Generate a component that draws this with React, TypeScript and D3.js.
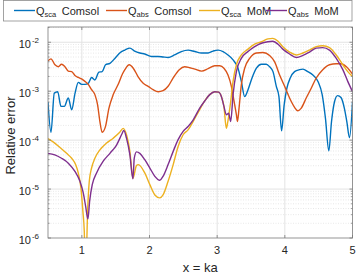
import React from 'react';
import * as d3 from 'd3';

// [ka, log10(relative error)]
const qScaComsol: [number, number][] = [
  [0.5, -3.22], [0.544, -3.84], [0.593, -3.04], [0.643, -3.01], [0.692, -3.31], [0.741, -3.31],
  [0.8, -3.14], [0.85, -3.38], [0.9, -3.04], [0.948, -2.82], [0.997, -2.86], [1.046, -2.86],
  [1.095, -2.84], [1.144, -2.72], [1.193, -2.77], [1.252, -2.61], [1.3, -2.6], [1.35, -2.46],
  [1.415, -2.43], [1.488, -2.33], [1.56, -2.22], [1.636, -2.16], [1.71, -2.12], [1.78, -2.18],
  [1.857, -2.22], [1.93, -2.24], [2.03, -2.29], [2.128, -2.29], [2.2, -2.3], [2.275, -2.31],
  [2.37, -2.26], [2.47, -2.19], [2.57, -2.16], [2.67, -2.19], [2.77, -2.22], [2.866, -2.22],
  [2.94, -2.18], [3.013, -2.16], [3.087, -2.19], [3.16, -2.26], [3.235, -2.36], [3.308, -2.53],
  [3.357, -2.8], [3.407, -3.11], [3.456, -2.97], [3.515, -2.73], [3.58, -2.53], [3.653, -2.45],
  [3.726, -2.45], [3.775, -2.5], [3.825, -2.6], [3.874, -2.9], [3.913, -3.11], [3.952, -3.81],
  [3.99, -3.28], [4.03, -2.94], [4.08, -2.73], [4.144, -2.6], [4.218, -2.56], [4.267, -2.55],
  [4.34, -2.6], [4.415, -2.67], [4.49, -2.8], [4.552, -3.07], [4.6, -3.55], [4.65, -4.22],
  [4.69, -3.62], [4.735, -3.21], [4.78, -3.09], [4.83, -3.13], [4.88, -3.35], [4.916, -3.62],
  [4.956, -3.95], [5.0, -3.22],
];

const qAbsComsol: [number, number][] = [
  [0.5, -2.38], [0.544, -2.34], [0.603, -2.46], [0.652, -2.5], [0.7, -2.45], [0.75, -2.5],
  [0.8, -2.59], [0.85, -2.6], [0.898, -2.68], [0.947, -2.72], [0.996, -2.75], [1.046, -2.8],
  [1.095, -2.86], [1.144, -2.97], [1.193, -3.07], [1.233, -3.28], [1.267, -3.62], [1.3, -3.84],
  [1.35, -3.72], [1.4, -3.35], [1.464, -3.07], [1.538, -2.86], [1.6, -2.65], [1.636, -2.56],
  [1.7, -2.46], [1.76, -2.53], [1.83, -2.7], [1.907, -2.84], [1.98, -2.9], [2.054, -2.97],
  [2.128, -3.01], [2.2, -2.99], [2.275, -2.9], [2.35, -2.73], [2.44, -2.56], [2.52, -2.5],
  [2.595, -2.52], [2.67, -2.55], [2.77, -2.59], [2.866, -2.54], [2.964, -2.48], [3.038, -2.48],
  [3.1, -2.53], [3.16, -2.67], [3.21, -2.9], [3.25, -3.21], [3.284, -3.48], [3.3, -3.62],
  [3.323, -3.35], [3.357, -2.87], [3.407, -2.53], [3.48, -2.33], [3.58, -2.22], [3.677, -2.21],
  [3.775, -2.27], [3.85, -2.4], [3.923, -2.67], [3.997, -2.9], [4.07, -3.14], [4.144, -3.33],
  [4.19, -3.4], [4.24, -3.35], [4.316, -3.14], [4.39, -2.94], [4.464, -2.73], [4.56, -2.56],
  [4.66, -2.46], [4.76, -2.44], [4.83, -2.44], [4.91, -2.5], [5.0, -2.65],
];

const qScaMom: [number, number][] = [
  [0.5, -3.97], [0.58, -4.04], [0.677, -4.15], [0.775, -4.27], [0.85, -4.37], [0.908, -4.5],
  [0.947, -4.67], [0.987, -4.98], [1.016, -5.46], [1.036, -5.86], [1.046, -6.3], [1.066, -6.3],
  [1.085, -5.46], [1.11, -4.84], [1.144, -4.57], [1.193, -4.37], [1.267, -4.2], [1.366, -4.06],
  [1.464, -3.96], [1.56, -3.84], [1.61, -3.76], [1.66, -3.89], [1.71, -4.23], [1.755, -4.78],
  [1.808, -4.52], [1.835, -4.5], [1.93, -4.67], [2.005, -4.91], [2.079, -5.12], [2.153, -5.18],
  [2.2, -5.12], [2.275, -4.84], [2.35, -4.5], [2.423, -4.13], [2.497, -3.89], [2.57, -3.79],
  [2.644, -3.62], [2.74, -3.38], [2.816, -3.2], [2.89, -3.07], [2.964, -3.01], [3.023, -3.02],
  [3.062, -3.11], [3.1, -3.31], [3.136, -3.76], [3.16, -3.6], [3.2, -3.21], [3.235, -2.8],
  [3.284, -2.46], [3.357, -2.26], [3.456, -2.14], [3.554, -2.04], [3.653, -1.99], [3.75, -1.93],
  [3.82, -1.92], [3.9, -1.98], [3.97, -2.09], [4.07, -2.2], [4.17, -2.26], [4.267, -2.22],
  [4.365, -2.16], [4.464, -2.09], [4.56, -2.07], [4.66, -2.11], [4.76, -2.26], [4.857, -2.46],
  [4.93, -2.6], [5.0, -2.7],
];

const qAbsMom: [number, number][] = [
  [0.5, -4.27], [0.6, -4.3], [0.7, -4.37], [0.8, -4.47], [0.898, -4.64], [0.972, -4.84],
  [1.021, -5.08], [1.056, -5.35], [1.09, -5.61], [1.115, -5.25], [1.154, -4.91], [1.218, -4.67],
  [1.316, -4.43], [1.415, -4.27], [1.513, -4.1], [1.597, -3.86], [1.62, -3.8], [1.66, -3.96],
  [1.71, -4.3], [1.755, -4.79], [1.775, -4.37], [1.808, -4.24], [1.857, -4.27], [1.93, -4.4],
  [2.005, -4.57], [2.079, -4.74], [2.153, -4.82], [2.2, -4.74], [2.275, -4.5], [2.35, -4.23],
  [2.423, -3.99], [2.497, -3.82], [2.57, -3.72], [2.644, -3.59], [2.74, -3.35], [2.816, -3.2],
  [2.89, -3.07], [2.964, -3.01], [3.023, -3.02], [3.062, -3.11], [3.1, -3.31], [3.136, -3.48],
  [3.17, -3.45], [3.2, -3.62], [3.235, -3.07], [3.284, -2.6], [3.357, -2.33], [3.456, -2.19],
  [3.554, -2.09], [3.653, -2.02], [3.75, -1.99], [3.82, -1.98], [3.9, -2.04], [3.97, -2.14],
  [4.07, -2.24], [4.17, -2.31], [4.267, -2.27], [4.365, -2.2], [4.464, -2.12], [4.56, -2.11],
  [4.66, -2.16], [4.76, -2.33], [4.857, -2.56], [4.93, -2.8], [5.0, -3.01],
];

const xTicks = [1, 2, 3, 4, 5];
const yExponents = [-6, -5, -4, -3, -2];

const series = [
  { name: 'sca', method: 'Comsol', data: qScaComsol, color: '#0072BD' },
  { name: 'abs', method: 'Comsol', data: qAbsComsol, color: '#D95319' },
  { name: 'sca', method: 'MoM', data: qScaMom, color: '#EDB120' },
  { name: 'abs', method: 'MoM', data: qAbsMom, color: '#7E2F8E' },
];

const W = 357;
const H = 275;
const margin = { top: 27, right: 4.5, bottom: 37, left: 48 };
const font = "'Liberation Sans', Arial, Helvetica, sans-serif";
const textColor = '#262626';

export default function App() {
  const x = d3.scaleLinear().domain([0.5, 5]).range([margin.left, W - margin.right]);
  const y = d3.scaleLog().domain([1e-6, 0.0205]).range([H - margin.bottom, margin.top]);

  const line = d3.line<[number, number]>()
    .x(d => x(d[0]))
    .y(d => y(Math.pow(10, d[1])))
    .curve(d3.curveMonotoneX);

  const x0 = margin.left;
  const x1 = W - margin.right;
  const y0 = H - margin.bottom;
  const y1 = margin.top;

  // minor values 2..9 x 10^k inside the domain
  const minor: number[] = [];
  yExponents.forEach(e => {
    for (let m = 2; m <= 9; m++) {
      const v = m * Math.pow(10, e);
      if (v < y.domain()[1]) minor.push(v);
    }
  });

  const legendX = [14, 106, 199, 266];

  return (
    <svg width={W} height={H} style={{ position: 'absolute', left: 0, top: 0, background: '#fff' }}
      fontFamily={font}>
      <defs>
        <clipPath id="plot-clip">
          <rect x={x0} y={y1} width={x1 - x0} height={y0 - y1} />
        </clipPath>
      </defs>
      <rect x={x0} y={y1} width={x1 - x0} height={y0 - y1} fill="#fff" />

      {/* minor grid */}
      {minor.map(v => (
        <line key={'mg' + v} x1={x0} x2={x1} y1={y(v)} y2={y(v)}
          stroke="#d9d9d9" strokeWidth={0.6} strokeDasharray="1,1.5" />
      ))}
      {/* major grid */}
      {yExponents.slice(1).map(e => (
        <line key={'yg' + e} x1={x0} x2={x1} y1={y(Math.pow(10, e))} y2={y(Math.pow(10, e))}
          stroke="#e3e3e3" strokeWidth={1} />
      ))}
      {xTicks.slice(0, -1).map(t => (
        <line key={'xg' + t} x1={x(t)} x2={x(t)} y1={y0} y2={y1} stroke="#e3e3e3" strokeWidth={1} />
      ))}

      {/* data */}
      <g clipPath="url(#plot-clip)">
        {series.map((s, i) => (
          <path key={i} d={line(s.data) || ''} fill="none" stroke={s.color} strokeWidth={1.4}
            strokeLinejoin="round" />
        ))}
      </g>

      {/* box and ticks */}
      <rect x={x0} y={y1} width={x1 - x0} height={y0 - y1} fill="none" stroke="#7a7a7a" strokeWidth={0.8} />
      {xTicks.map(t => (
        <g key={'xt' + t}>
          <line x1={x(t)} x2={x(t)} y1={y0} y2={y0 - 3} stroke="#7a7a7a" strokeWidth={0.8} />
          <line x1={x(t)} x2={x(t)} y1={y1} y2={y1 + 3} stroke="#7a7a7a" strokeWidth={0.8} />
          <text x={x(t)} y={y0 + 16} textAnchor="middle" fontSize={11} fill={textColor}>{t}</text>
        </g>
      ))}
      {minor.map(v => (
        <g key={'mt' + v}>
          <line x1={x0} x2={x0 + 1.6} y1={y(v)} y2={y(v)} stroke="#7a7a7a" strokeWidth={0.7} />
          <line x1={x1} x2={x1 - 1.6} y1={y(v)} y2={y(v)} stroke="#7a7a7a" strokeWidth={0.7} />
        </g>
      ))}
      {yExponents.map(e => {
        const yy = y(Math.pow(10, e));
        return (
          <g key={'yt' + e}>
            <line x1={x0} x2={x0 + 3} y1={yy} y2={yy} stroke="#7a7a7a" strokeWidth={0.8} />
            <line x1={x1} x2={x1 - 3} y1={yy} y2={yy} stroke="#7a7a7a" strokeWidth={0.8} />
            <text x={39} y={yy + 5.5} textAnchor="end" fontSize={11} fill={textColor}>
              10<tspan fontSize={8} dx={1} dy={-5}>{'-' + Math.abs(e)}</tspan>
            </text>
          </g>
        );
      })}

      <text x={(x0 + x1) / 2} y={272} textAnchor="middle" fontSize={13} fill={textColor}>x = ka</text>
      <text transform={`translate(15,${(y0 + y1) / 2 + 3}) rotate(-90)`} textAnchor="middle"
        fontSize={13} fill={textColor}>Relative error</text>

      {/* legend */}
      <rect x={3.5} y={0.5} width={348.5} height={20.5} fill="#fff" stroke="#8c8c8c" strokeWidth={0.8} />
      {series.map((s, i) => (
        <g key={'lg' + i}>
          <line x1={legendX[i]} x2={legendX[i] + 21} y1={10.5} y2={10.5} stroke={s.color} strokeWidth={1.4} />
          <text x={legendX[i] + 22} y={14.5} fontSize={11} fill={textColor}>
            Q<tspan fontSize={7.5} dy={2.5}>{s.name}</tspan>
            <tspan dx={2.5} dy={-2.5}>{' ' + s.method}</tspan>
          </text>
        </g>
      ))}
    </svg>
  );
}
